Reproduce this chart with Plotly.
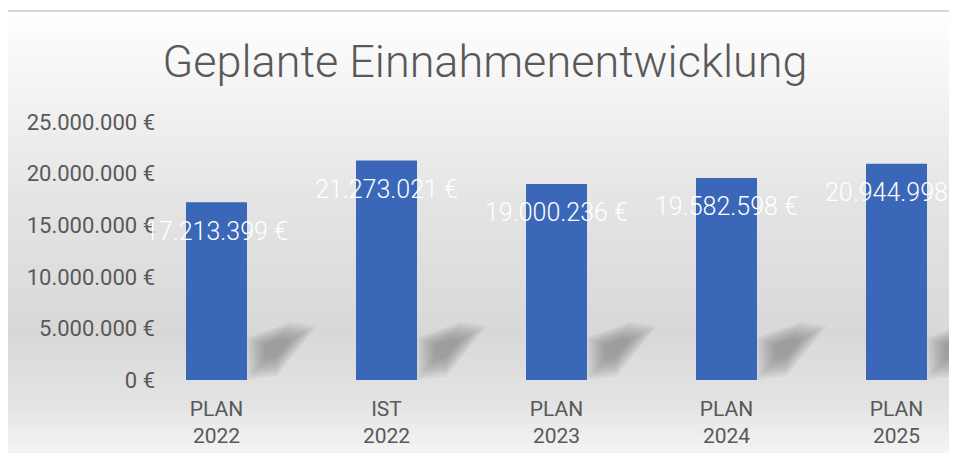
import plotly.graph_objects as go

# ---- data ----
categories = ["PLAN<br>2022", "IST<br>2022", "PLAN<br>2023", "PLAN<br>2024", "PLAN<br>2025"]
values = [17213399, 21273021, 19000236, 19582598, 20944998]
y_tick_vals = [0, 5000000, 10000000, 15000000, 20000000, 25000000]
y_tick_text = ["0 €", "5.000.000 €", "10.000.000 €", "15.000.000 €", "20.000.000 €", "25.000.000 €"]
title_text = "Geplante Einnahmenentwicklung"

# page has an 8px body margin: work in reference pixels, convert with offset
OFF = 8
W, H = 957 - OFF, 461 - 2 * OFF
PLOT_L, PLOT_T, PLOT_B = 156, 122, 380          # reference pixel positions
L, T = PLOT_L - OFF, PLOT_T - OFF
B = H - (PLOT_B - OFF)
R = 0
PW, PH = W - L - R, H - T - B
BAND = 170.0
FIRST_C = 216.5


def eur(v):
    return f"{v:,}".replace(",", ".") + " €"


def px_x(px):  # reference px -> paper
    return (px - OFF - L) / PW


def px_y(py):
    return (PLOT_B - py) / PH


xi = list(range(len(categories)))

fig = go.Figure()
fig.add_trace(go.Bar(
    x=xi, y=values,
    marker=dict(color="#3b67b8", line=dict(width=0)),
    width=61 / BAND,
    hoverinfo="skip",
))

shapes = []
stops = [(0.0, 255), (0.40, 229), (0.70, 216), (0.86, 228), (1.0, 250)]


def grey(f):
    for (f0, c0), (f1, c1) in zip(stops[:-1], stops[1:]):
        if f0 <= f <= f1:
            return int(round(c0 + (c1 - c0) * (f - f0) / (f1 - f0)))
    return stops[-1][1]


top_px, bot_px = 11, 470
n = 90
step = (bot_px - top_px) / n
for k in range(n):
    y0 = top_px + k * step
    y1 = y0 + step + 0.6
    g = grey((k + 0.5) / n)
    shapes.append(dict(type="rect", xref="paper", yref="paper",
                       x0=px_x(7), x1=px_x(980), y0=px_y(y1), y1=px_y(y0),
                       fillcolor=f"rgb({g},{g},{g})", line=dict(width=0), layer="below"))
shapes.append(dict(type="rect", xref="paper", yref="paper",
                   x0=px_x(7), x1=px_x(990), y0=px_y(490), y1=px_y(11),
                   fillcolor="rgba(0,0,0,0)", line=dict(color="#d6d6d6", width=2), layer="above"))

# soft bar shadows (decorative): a base polygon shrunk in several translucent layers
ux = 1 / BAND
uy = 25000000 / 258.0
base = [(30, 0), (30, 42), (74, 58), (100, 54), (60, 4)]
cx = sum(p[0] for p in base) / len(base)
cy = sum(p[1] for p in base) / len(base)
n_layers = 8
for i in xi:
    for k in range(n_layers):
        s = 1.0 - 0.09 * k
        pts = [(max(30, cx + (dx - cx) * s), max(0, cy + (dy - cy) * s)) for dx, dy in base]
        path = "M " + " L ".join(f"{i + dx * ux},{dy * uy}" for dx, dy in pts) + " Z"
        shapes.append(dict(type="path", xref="x", yref="y", path=path,
                           fillcolor="rgba(95,95,95,0.075)", line=dict(width=0), layer="below"))

annotations = []
for i, v in zip(xi, values):
    annotations.append(dict(x=i, y=v, xref="x", yref="y", text=eur(v), showarrow=False,
                            yanchor="middle", xanchor="center", yshift=-29,
                            font=dict(family="Roboto", size=25, color="white", weight=300)))

fig.update_layout(
    width=W, height=H,
    margin=dict(l=L, r=R, t=T, b=B, autoexpand=False),
    paper_bgcolor="white", plot_bgcolor="rgba(0,0,0,0)",
    showlegend=False,
    title=dict(text=title_text, xref="container", yref="container",
               x=(485 - OFF) / W, y=1 - (61 - OFF) / H, xanchor="center", yanchor="middle",
               font=dict(family="Roboto", size=45, color="#595959", weight=300)),
    xaxis=dict(tickmode="array", tickvals=xi, ticktext=categories,
               range=[(PLOT_L - FIRST_C) / BAND, (957 - FIRST_C) / BAND],
               showgrid=False, zeroline=False, showline=False, ticks="",
               ticklabelstandoff=14,
               tickfont=dict(family="Roboto", size=21, color="#595959"),
               fixedrange=True),
    yaxis=dict(range=[0, 25000000], tickmode="array", tickvals=y_tick_vals, ticktext=y_tick_text,
               showgrid=False, zeroline=False, showline=False, ticks="",
               tickfont=dict(family="Roboto", size=22, color="#595959"),
               fixedrange=True),
    shapes=shapes,
    annotations=annotations,
)

fig.write_html("out.html")
